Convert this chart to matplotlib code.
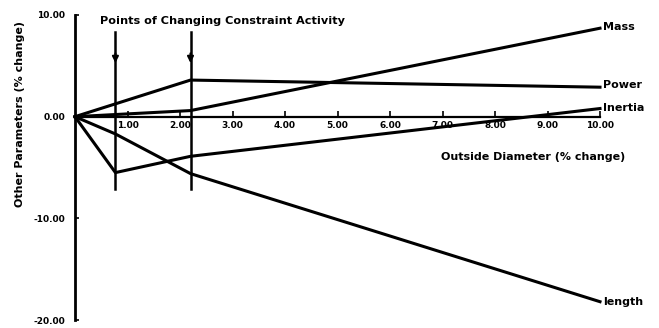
import matplotlib
matplotlib.use("Agg")
import matplotlib.pyplot as plt

plt.rcParams['font.family'] = ['DejaVu Sans']

# Outside diameter (% change) at each breakpoint
diam = [0.0, 0.77, 2.2, 10.0]
mass_x = [0.0, 2.2, 10.0]
mass = [0.0, 0.6, 8.7]
power_x = [0.0, 2.2, 10.0]
power = [0.0, 3.6, 2.9]
inertia = [0.0, -5.5, -3.9, 0.8]
length = [0.0, -1.7, -5.6, -18.2]

# Diameters where the active constraint set changes
constraint_points = [0.77, 2.2]

x_ticks = [1, 2, 3, 4, 5, 6, 7, 8, 9, 10]
x_tick_labels = ["1.00", "2.00", "3.00", "4.00", "5.00", "6.00", "7.00", "8.00", "9.00", "10.00"]
y_ticks = [-20, -10, 0, 10]
y_tick_labels = ["-20.00", "-10.00", "0.00", "10.00"]

W, H = 659, 328
fig = plt.figure(figsize=(W / 100, H / 100), dpi=100)
ax = fig.add_axes([75 / W, (H - 320) / H, 525 / W, 305 / H])
ax.set_xlim(0, 10)
ax.set_ylim(-20, 10)

for s in ("top", "right"):
    ax.spines[s].set_visible(False)
ax.spines["bottom"].set_position(("data", 0))
ax.spines["left"].set_linewidth(2.0)
ax.spines["bottom"].set_linewidth(1.6)

ax.set_xticks(x_ticks)
ax.set_xticklabels(x_tick_labels)
ax.set_yticks(y_ticks)
ax.set_yticklabels(y_tick_labels)
ax.tick_params(axis="x", direction="in", length=4, width=1.2, labelsize=6.5, pad=3)
ax.tick_params(axis="y", direction="in", length=3, width=1.2, labelsize=6.5, pad=7)
for lab in ax.get_xticklabels() + ax.get_yticklabels():
    lab.set_fontweight("bold")

lw = 2.2
ax.plot(mass_x, mass, color="black", lw=lw, clip_on=False)
ax.plot(power_x, power, color="black", lw=lw, clip_on=False)
ax.plot(diam, inertia, color="black", lw=lw, clip_on=False)
ax.plot(diam, length, color="black", lw=lw, clip_on=False)

# Vertical markers with downward arrows
for cx in constraint_points:
    ax.plot([cx, cx], [8.3, -7.1], color="black", lw=1.8, clip_on=False)
    ax.annotate("", xy=(cx, 5.0), xytext=(cx, 6.5),
                arrowprops=dict(arrowstyle="-|>", color="black", lw=1.5,
                                mutation_scale=9))

ax.text(0.48, 9.4, "Points of Changing Constraint Activity", fontsize=8.1,
        fontweight="bold", ha="left", va="center")

lab_kw = dict(fontsize=8, fontweight="bold", ha="left", va="center", clip_on=False)
ax.text(10.06, mass[-1] + 0.1, "Mass", **lab_kw)
ax.text(10.06, power[-1] + 0.2, "Power", **lab_kw)
ax.text(10.06, inertia[-1] + 0.1, "Inertia", **lab_kw)
ax.text(10.06, length[-1], "length", **lab_kw)

ax.text(8.72, -4.0, "Outside Diameter (% change)", fontsize=8,
        fontweight="bold", ha="center", va="center")
fig.text(20 / W, 1 - 114 / H, "Other Parameters (% change)", fontsize=8,
         fontweight="bold", rotation=90, ha="center", va="center")

fig.savefig("out.png", dpi=100)
